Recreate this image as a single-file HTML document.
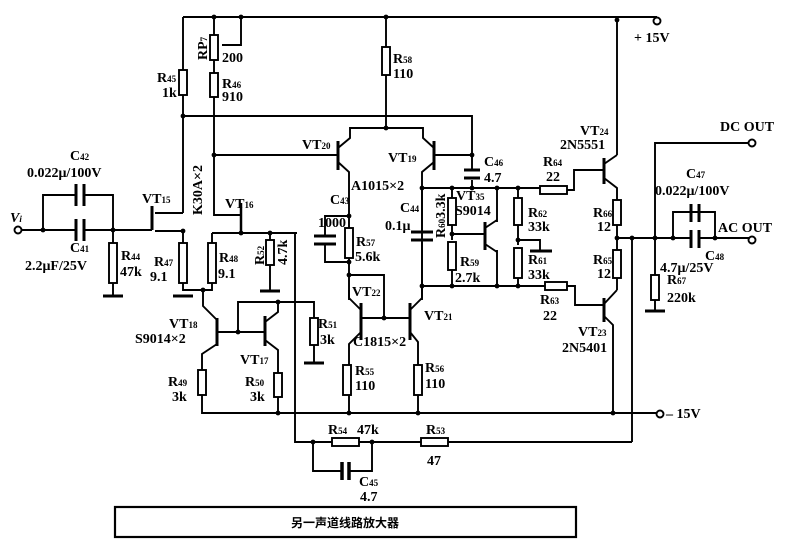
<!DOCTYPE html>
<html><head><meta charset="utf-8"><style>
html,body{margin:0;padding:0;background:#fff}
svg{display:block}
text{font-family:"Liberation Serif","Noto Serif CJK SC",serif;font-size:14px;font-weight:bold;fill:#000}
.s{font-size:9px}
</style></head><body>
<svg width="793" height="551" viewBox="0 0 793 551" xmlns="http://www.w3.org/2000/svg">
<g stroke="#000" stroke-width="1.9" fill="none">
<path d="M183 17 H657"/>
<circle cx="657" cy="21" r="3.5" fill="#fff"/>
<path d="M617 19 V155"/>
<path d="M183 17 V213 M155 213 H183 M155 231 H183 V243 M183 283 V290 H212 V283"/>
<rect x="179" y="70" width="8" height="25" fill="#fff"/>
<path d="M214 17 V215 H241 M241 17 V45 H222"/>
<rect x="210" y="35" width="8" height="25" fill="#fff"/>
<rect x="210" y="73" width="8" height="24" fill="#fff"/>
<path d="M183 116 H472 V170 M472 180 V188"/>
<path d="M386 17 V128"/>
<rect x="382" y="47" width="8" height="28" fill="#fff"/>
<path d="M214 155 H337"/>
<path d="M338 141 V170" stroke-width="3"/>
<path d="M338 148 L350 138 V128 H423 V138 L434 148 M338 162 L349 172 V300 M434 162 L422 172 V300"/>
<path d="M434 141 V170" stroke-width="3"/>
<path d="M434 155 H472"/>
<path d="M464 170 H480 M464 178 H480" stroke-width="3"/>
<path d="M422 188 H540 M567 190 H574 V170 H603"/>
<rect x="540" y="186" width="27" height="8" fill="#fff"/>
<path d="M604 158 V184" stroke-width="3"/>
<path d="M604 164 L617 155 M604 178 L617 188 V240 V290"/>
<rect x="613" y="200" width="8" height="25" fill="#fff"/>
<rect x="613" y="250" width="8" height="28" fill="#fff"/>
<path d="M617 238 H673 M655 238 V143 H749 M673 238 V212 H715 V238 H749 M655 238 V275 M655 300 V310"/>
<path d="M691 204 V222 M699 204 V222 M691 230 V248 M699 230 V248" stroke-width="3"/>
<path d="M673 212 H691 M699 212 H715 M673 238 H691 M699 238 H715"/>
<circle cx="752" cy="143" r="3.5" fill="#fff"/>
<circle cx="752" cy="240" r="3.5" fill="#fff"/>
<rect x="651" y="275" width="8" height="25" fill="#fff"/>
<path d="M645 311 H665" stroke-width="3"/>
<path d="M632 238 V442"/>
<path d="M422 188 V230 M422 242 V286 H545 M567 286 H575 V305 H604"/>
<path d="M411 232 H433 M411 240 H433" stroke-width="3"/>
<path d="M452 188 V198 M452 225 V240 M452 270 V286 M452 234 H485 M497 188 V222 M497 250 V286 M518 188 V198 M518 225 V245 M518 278 V286 M518 240 H540 V250"/>
<rect x="448" y="198" width="8" height="27" fill="#fff"/>
<rect x="448" y="242" width="8" height="28" fill="#fff"/>
<rect x="514" y="198" width="8" height="27" fill="#fff"/>
<rect x="514" y="248" width="8" height="30" fill="#fff"/>
<path d="M530 251 H552" stroke-width="3"/>
<path d="M485 222 V250" stroke-width="3"/>
<path d="M485 228 L497 220 M485 244 L497 252"/>
<rect x="545" y="282" width="22" height="8" fill="#fff"/>
<path d="M604 298 V322" stroke-width="3"/>
<path d="M604 304 L617 290 M604 316 L613 325 V413"/>
<path d="M349 216 H325 V236 M325 244 V262 H349"/>
<path d="M314 236 H336 M314 244 H336" stroke-width="3"/>
<rect x="345" y="228" width="8" height="30" fill="#fff"/>
<path d="M349 275 H384 V318"/>
<path d="M361 303 V340 M410 303 V340" stroke-width="3"/>
<path d="M361 318 H410 M361 310 L349 298 V290 M361 332 L349 344 V413 M410 310 L422 298 V286 M410 332 L418 342 V413"/>
<rect x="343" y="365" width="8" height="30" fill="#fff"/>
<rect x="414" y="365" width="8" height="30" fill="#fff"/>
<path d="M22 230 H76 M84 230 H152 M43 230 V195 H76 M84 195 H113 V230"/>
<path d="M76 184 V206 M84 184 V206 M76 219 V241 M84 219 V241" stroke-width="3"/>
<circle cx="18" cy="230" r="3.5" fill="#fff"/>
<path d="M113 230 V243 M113 283 V295"/>
<rect x="109" y="243" width="8" height="40" fill="#fff"/>
<path d="M103 296 H123 M173 296 H193" stroke-width="3"/>
<path d="M152 206 V230" stroke-width="3"/>
<rect x="179" y="243" width="8" height="40" fill="#fff"/>
<path d="M241 203 V233" stroke-width="2.5"/>
<path d="M212 233 H297 M212 233 V243 M270 233 V240 M270 265 V290 M295 233 V442 H313"/>
<rect x="208" y="243" width="8" height="40" fill="#fff"/>
<rect x="266" y="240" width="8" height="25" fill="#fff"/>
<path d="M260 291 H280" stroke-width="3"/>
<path d="M203 290 V306 L217 320 M217 344 L202 354 V370 M202 395 V413 H657"/>
<path d="M217 318 V346 M265 316 V346" stroke-width="3"/>
<path d="M217 332 H265 M238 332 V302 H314 V318 M314 345 V362 M265 322 L278 312 V302 M265 340 L278 350 V373 M278 397 V413"/>
<rect x="198" y="370" width="8" height="25" fill="#fff"/>
<rect x="274" y="373" width="8" height="24" fill="#fff"/>
<rect x="310" y="318" width="8" height="27" fill="#fff"/>
<path d="M304 363 H324" stroke-width="3"/>
<circle cx="660" cy="414" r="3.5" fill="#fff"/>
<path d="M313 442 H332 M359 442 H421 M448 442 H632"/>
<rect x="332" y="438" width="27" height="8" fill="#fff"/>
<rect x="421" y="438" width="27" height="8" fill="#fff"/>
<path d="M313 442 V471 H342 M349 471 H372 V442"/>
<path d="M342 462 V480 M349 462 V480" stroke-width="3.5"/>
<rect x="115" y="507" width="461" height="30" stroke-width="2.2"/>
</g>
<g fill="#000">
<circle cx="183" cy="116" r="2.4"/><circle cx="214" cy="17" r="2.4"/><circle cx="241" cy="17" r="2.4"/><circle cx="386" cy="17" r="2.4"/><circle cx="617" cy="20" r="2.4"/>
<circle cx="214" cy="155" r="2.4"/><circle cx="386" cy="128" r="2.4"/><circle cx="472" cy="155" r="2.4"/><circle cx="422" cy="188" r="2.4"/><circle cx="452" cy="188" r="2.4"/><circle cx="472" cy="188" r="2.4"/><circle cx="497" cy="188" r="2.4"/><circle cx="518" cy="188" r="2.4"/>
<circle cx="452" cy="234" r="2.4"/><circle cx="518" cy="240" r="2.4"/><circle cx="422" cy="286" r="2.4"/><circle cx="452" cy="286" r="2.4"/><circle cx="497" cy="286" r="2.4"/><circle cx="518" cy="286" r="2.4"/>
<circle cx="617" cy="238" r="2.4"/><circle cx="632" cy="238" r="2.4"/><circle cx="655" cy="238" r="2.4"/><circle cx="673" cy="238" r="2.4"/><circle cx="715" cy="238" r="2.4"/>
<circle cx="349" cy="216" r="2.4"/><circle cx="349" cy="262" r="2.4"/><circle cx="349" cy="275" r="2.4"/><circle cx="384" cy="318" r="2.4"/>
<circle cx="43" cy="230" r="2.4"/><circle cx="113" cy="230" r="2.4"/><circle cx="183" cy="231" r="2.4"/><circle cx="241" cy="233" r="2.4"/><circle cx="270" cy="233" r="2.4"/>
<circle cx="203" cy="290" r="2.4"/><circle cx="238" cy="332" r="2.4"/><circle cx="278" cy="302" r="2.4"/><circle cx="278" cy="413" r="2.4"/><circle cx="349" cy="413" r="2.4"/><circle cx="418" cy="413" r="2.4"/><circle cx="613" cy="413" r="2.4"/>
<circle cx="313" cy="442" r="2.4"/><circle cx="372" cy="442" r="2.4"/>
</g>
<text x="634" y="42">+ 15V</text>
<text x="666" y="418">– 15V</text>
<text x="720" y="131">DC OUT</text>
<text x="718" y="232">AC OUT</text>
<text x="10" y="222" font-style="italic">V<tspan class="s">i</tspan></text>
<text x="70" y="160">C<tspan class="s">42</tspan></text>
<text x="27" y="177">0.022μ/100V</text>
<text x="70" y="252">C<tspan class="s">41</tspan></text>
<text x="25" y="270">2.2μF/25V</text>
<text x="121" y="260">R<tspan class="s">44</tspan></text>
<text x="120" y="276">47k</text>
<text x="142" y="203">VT<tspan class="s">15</tspan></text>
<text x="225" y="208">VT<tspan class="s">16</tspan></text>
<text transform="translate(202,215) rotate(-90)">K30A×2</text>
<text x="154" y="266">R<tspan class="s">47</tspan></text>
<text x="150" y="281">9.1</text>
<text x="219" y="262">R<tspan class="s">48</tspan></text>
<text x="218" y="278">9.1</text>
<text transform="translate(264,265) rotate(-90)">R<tspan class="s">52</tspan></text>
<text transform="translate(287,265) rotate(-90)">4.7k</text>
<text x="157" y="82">R<tspan class="s">45</tspan></text>
<text x="162" y="97">1k</text>
<text transform="translate(207,60) rotate(-90)">RP<tspan class="s">7</tspan></text>
<text x="222" y="62">200</text>
<text x="222" y="88">R<tspan class="s">46</tspan></text>
<text x="222" y="101">910</text>
<text x="393" y="63">R<tspan class="s">58</tspan></text>
<text x="393" y="78">110</text>
<text x="302" y="149">VT<tspan class="s">20</tspan></text>
<text x="388" y="162">VT<tspan class="s">19</tspan></text>
<text x="351" y="190">A1015×2</text>
<text x="484" y="166">C<tspan class="s">46</tspan></text>
<text x="484" y="182">4.7</text>
<text x="456" y="200">VT<tspan class="s">35</tspan></text>
<text x="455" y="215">S9014</text>
<text transform="translate(445,238) rotate(-90)">R<tspan class="s">60</tspan>3.3k</text>
<text x="400" y="212">C<tspan class="s">44</tspan></text>
<text x="385" y="230">0.1μ</text>
<text x="460" y="266">R<tspan class="s">59</tspan></text>
<text x="455" y="282">2.7k</text>
<text x="528" y="217">R<tspan class="s">62</tspan></text>
<text x="528" y="231">33k</text>
<text x="528" y="264">R<tspan class="s">61</tspan></text>
<text x="528" y="279">33k</text>
<text x="543" y="166">R<tspan class="s">64</tspan></text>
<text x="546" y="181">22</text>
<text x="580" y="135">VT<tspan class="s">24</tspan></text>
<text x="560" y="149">2N5551</text>
<text x="593" y="217">R<tspan class="s">66</tspan></text>
<text x="597" y="231">12</text>
<text x="593" y="264">R<tspan class="s">65</tspan></text>
<text x="597" y="278">12</text>
<text x="540" y="304">R<tspan class="s">63</tspan></text>
<text x="543" y="320">22</text>
<text x="578" y="336">VT<tspan class="s">23</tspan></text>
<text x="562" y="352">2N5401</text>
<text x="686" y="178">C<tspan class="s">47</tspan></text>
<text x="655" y="195">0.022μ/100V</text>
<text x="705" y="260">C<tspan class="s">48</tspan></text>
<text x="660" y="272">4.7μ/25V</text>
<text x="667" y="284">R<tspan class="s">67</tspan></text>
<text x="667" y="302">220k</text>
<text x="330" y="204">C<tspan class="s">43</tspan></text>
<text x="318" y="227">1000</text>
<text x="356" y="246">R<tspan class="s">57</tspan></text>
<text x="355" y="261">5.6k</text>
<text x="352" y="296">VT<tspan class="s">22</tspan></text>
<text x="424" y="320">VT<tspan class="s">21</tspan></text>
<text x="353" y="346">C1815×2</text>
<text x="355" y="375">R<tspan class="s">55</tspan></text>
<text x="355" y="390">110</text>
<text x="425" y="372">R<tspan class="s">56</tspan></text>
<text x="425" y="388">110</text>
<text x="169" y="328">VT<tspan class="s">18</tspan></text>
<text x="135" y="343">S9014×2</text>
<text x="240" y="364">VT<tspan class="s">17</tspan></text>
<text x="168" y="386">R<tspan class="s">49</tspan></text>
<text x="172" y="401">3k</text>
<text x="245" y="386">R<tspan class="s">50</tspan></text>
<text x="250" y="401">3k</text>
<text x="318" y="328">R<tspan class="s">51</tspan></text>
<text x="320" y="344">3k</text>
<text x="328" y="434">R<tspan class="s">54</tspan></text>
<text x="357" y="434">47k</text>
<text x="426" y="434">R<tspan class="s">53</tspan></text>
<text x="427" y="465">47</text>
<text x="359" y="486">C<tspan class="s">45</tspan></text>
<text x="360" y="501">4.7</text>
<text x="345" y="527" text-anchor="middle" style="font-family:'Liberation Sans','Noto Sans CJK SC',sans-serif;font-size:12px;font-weight:bold">另一声道线路放大器</text>
</svg>
</body></html>
